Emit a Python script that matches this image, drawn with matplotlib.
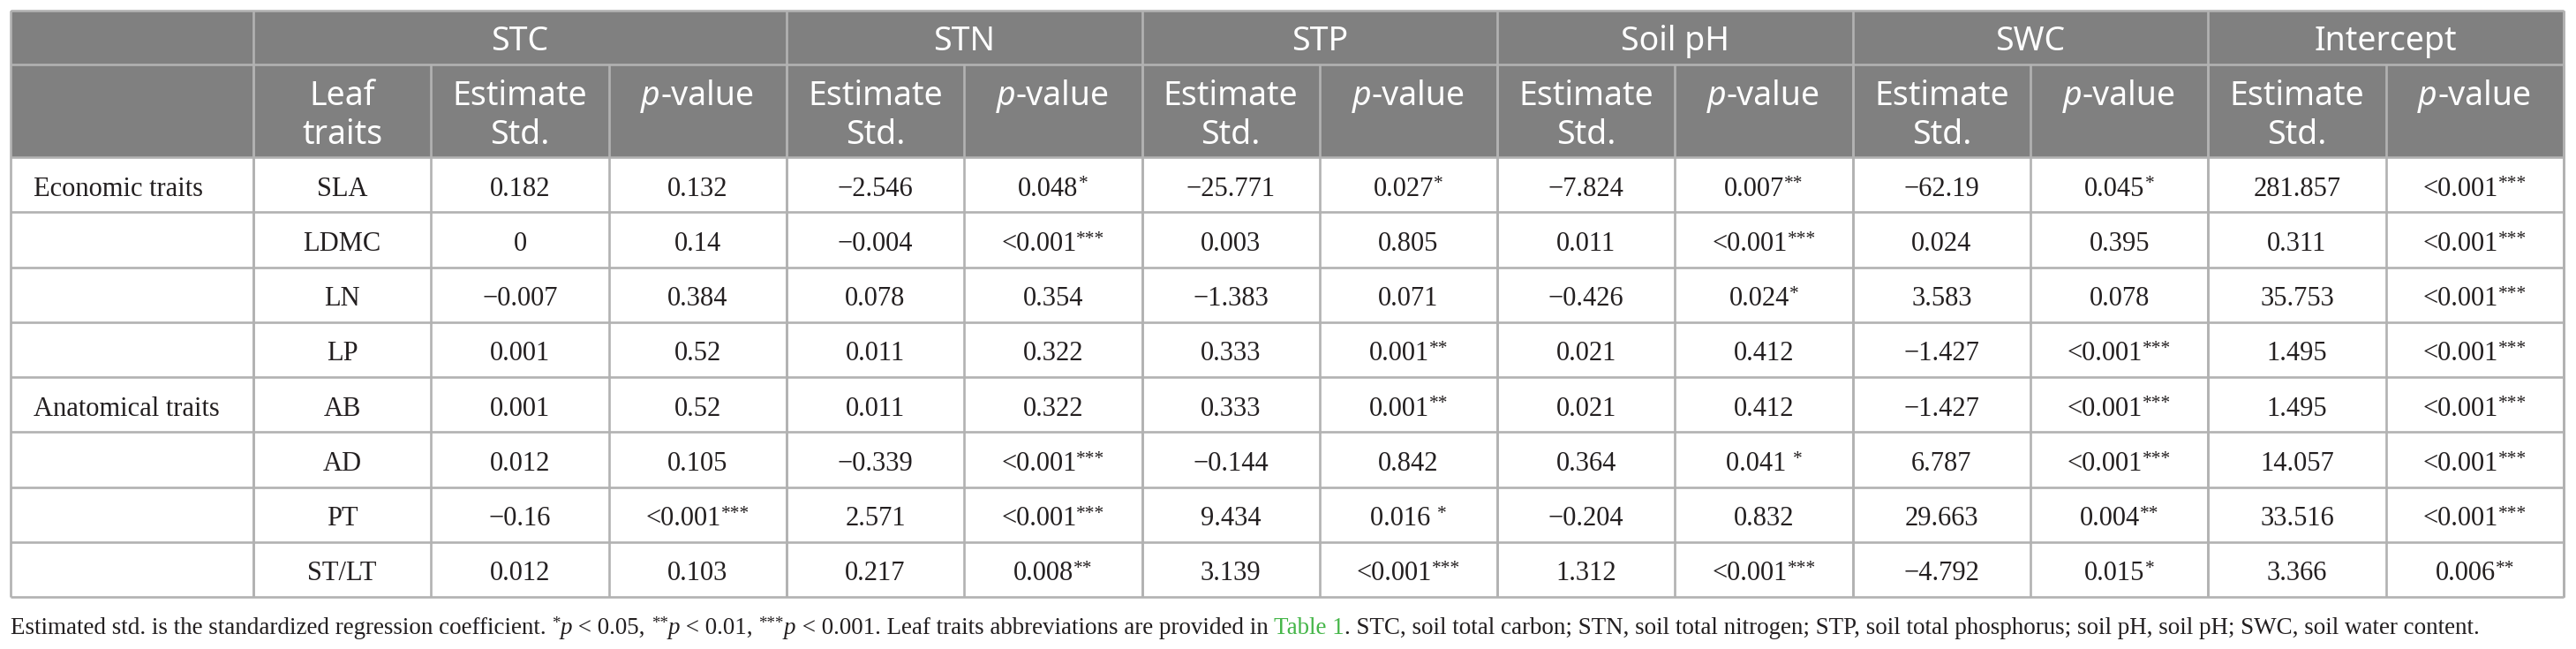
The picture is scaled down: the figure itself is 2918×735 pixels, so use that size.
import re
import matplotlib
matplotlib.use('Agg')
import matplotlib.pyplot as plt
from matplotlib.patches import Rectangle

# 표 데이터
groups = ['STC', 'STN', 'STP', 'Soil pH', 'SWC', 'Intercept']
categories = ['Economic traits', '', '', '', 'Anatomical traits', '', '', '']
traits = ['SLA', 'LDMC', 'LN', 'LP', 'AB', 'AD', 'PT', 'ST/LT']

stc_est = ['0.182', '0', '−0.007', '0.001', '0.001', '0.012', '−0.16', '0.012']
stc_p = ['0.132', '0.14', '0.384', '0.52', '0.52', '0.105', '<0.001***', '0.103']
stn_est = ['−2.546', '−0.004', '0.078', '0.011', '0.011', '−0.339', '2.571', '0.217']
stn_p = ['0.048*', '<0.001***', '0.354', '0.322', '0.322', '<0.001***', '<0.001***', '0.008**']
stp_est = ['−25.771', '0.003', '−1.383', '0.333', '0.333', '−0.144', '9.434', '3.139']
stp_p = ['0.027*', '0.805', '0.071', '0.001**', '0.001**', '0.842', '0.016 *', '<0.001***']
ph_est = ['−7.824', '0.011', '−0.426', '0.021', '0.021', '0.364', '−0.204', '1.312']
ph_p = ['0.007**', '<0.001***', '0.024*', '0.412', '0.412', '0.041 *', '0.832', '<0.001***']
swc_est = ['−62.19', '0.024', '3.583', '−1.427', '−1.427', '6.787', '29.663', '−4.792']
swc_p = ['0.045*', '0.395', '0.078', '<0.001***', '<0.001***', '<0.001***', '0.004**', '0.015*']
int_est = ['281.857', '0.311', '35.753', '1.495', '1.495', '14.057', '33.516', '3.366']
int_p = ['<0.001***', '<0.001***', '<0.001***', '<0.001***', '<0.001***', '<0.001***', '<0.001***', '0.006**']

estimates = [stc_est, stn_est, stp_est, ph_est, swc_est, int_est]
pvalues = [stc_p, stn_p, stp_p, ph_p, swc_p, int_p]

# 레이아웃 (픽셀)
W, H = 2918, 735
left, first_w, sub_w = 12, 275, 201.3
top, h1, h2, row_h = 12, 61, 105, 62.25
grid_c = '#b2b2b2'
head_bg = '#808080'

HEAD = dict(family='Noto Sans', size=27, color='white')
BODY = dict(family='Liberation Serif', size=22, color='#231f20')
NOTE = dict(family='Liberation Serif', size=19.45, color='#231f20')

fig = plt.figure(figsize=(W / 100, H / 100), dpi=100)
ax = fig.add_axes([0, 0, 1, 1])
ax.set_xlim(0, W)
ax.set_ylim(H, 0)
ax.axis('off')
renderer = fig.canvas.get_renderer()


def adv(s, style):
    t1 = ax.text(0, 0, 'X' + s + 'X', **style)
    t2 = ax.text(0, 0, 'XX', **style)
    w = t1.get_window_extent(renderer).width - t2.get_window_extent(renderer).width
    t1.remove()
    t2.remove()
    return w


def style_of(base, mode):
    st = dict(base)
    if 'i' in mode:
        st['style'] = 'italic'
    if 's' in mode:
        st['size'] = base['size'] * 0.7
    if 'g' in mode:
        st['color'] = '#45b649'
    return st


def draw_runs(x, cy, runs, base, ha='center'):
    px = base['size'] * 100 / 72
    baseline = cy + 0.34 * px
    items = []
    for txt, mode in runs:
        st = style_of(base, mode)
        items.append((txt, mode, st, adv(txt, st)))
    total = sum(i[3] for i in items)
    x0 = x - total / 2 if ha == 'center' else x
    for txt, mode, st, w in items:
        y = baseline - 0.27 * px if 's' in mode else baseline
        ax.text(x0, y, txt, ha='left', va='baseline', **st)
        x0 += w


def pval_runs(s):
    m = re.match(r'^(.*?)( ?)(\*+)?$', s)
    runs = [(m.group(1) + m.group(2), 'n')]
    if m.group(3):
        runs.append((m.group(3), 's'))
    return runs


n_rows = len(traits)
n_sub = 2 * len(groups) + 1
right = left + first_w + n_sub * sub_w
y_h1 = top + h1
y_h2 = y_h1 + h2
bottom = y_h2 + n_rows * row_h
xs = [left + first_w + k * sub_w for k in range(n_sub + 1)]

# 헤더 배경
ax.add_patch(Rectangle((left, top), right - left, y_h2 - top, facecolor=head_bg, edgecolor='none'))

# 격자선
lw = 1.9
ax.hlines([top, y_h1, y_h2] + [y_h2 + r * row_h for r in range(1, n_rows + 1)],
          left, right, color=grid_c, lw=lw)
ax.vlines([left, right], top, bottom, color=grid_c, lw=lw)
group_edges = [xs[0]] + [xs[1 + 2 * (g + 1)] for g in range(len(groups))]
ax.vlines(group_edges, top, bottom, color=grid_c, lw=lw)
ax.vlines(xs, y_h1, bottom, color=grid_c, lw=lw)

# 헤더 1행
for g, name in enumerate(groups):
    a = group_edges[g]
    b = group_edges[g + 1]
    draw_runs((a + b) / 2, top + h1 / 2 + 1.5, [(name, 'n')], HEAD)

# 헤더 2행
l1, l2 = y_h1 + 33, y_h1 + 77
cx = (xs[0] + xs[1]) / 2
draw_runs(cx, l1, [('Leaf', 'n')], HEAD)
draw_runs(cx, l2, [('traits', 'n')], HEAD)
for g in range(len(groups)):
    ce = (xs[1 + 2 * g] + xs[2 + 2 * g]) / 2
    cp = (xs[2 + 2 * g] + xs[3 + 2 * g]) / 2
    draw_runs(ce, l1, [('Estimate', 'n')], HEAD)
    draw_runs(ce, l2, [('Std.', 'n')], HEAD)
    draw_runs(cp, l1, [('p', 'i'), ('-value', 'n')], HEAD)

# 본문
for r in range(n_rows):
    cy = y_h2 + (r + 0.5) * row_h + 2
    if categories[r]:
        draw_runs(left + 26, cy, [(categories[r], 'n')], BODY, ha='left')
    draw_runs((xs[0] + xs[1]) / 2, cy, [(traits[r], 'n')], BODY)
    for g in range(len(groups)):
        ce = (xs[1 + 2 * g] + xs[2 + 2 * g]) / 2
        cp = (xs[2 + 2 * g] + xs[3 + 2 * g]) / 2
        draw_runs(ce, cy, [(estimates[g][r], 'n')], BODY)
        draw_runs(cp, cy, pval_runs(pvalues[g][r]), BODY)

# 각주
note = [('Estimated std. is the standardized regression coefficient. ', 'n'),
        ('*', 's'), ('p', 'i'), (' < 0.05, ', 'n'),
        ('**', 's'), ('p', 'i'), (' < 0.01, ', 'n'),
        ('***', 's'), ('p', 'i'),
        (' < 0.001. Leaf traits abbreviations are provided in ', 'n'),
        ('Table 1', 'g'),
        ('. STC, soil total carbon; STN, soil total nitrogen; STP, soil total phosphorus; '
         'soil pH, soil pH; SWC, soil water content.', 'n')]
draw_runs(left, bottom + 33, note, NOTE, ha='left')

fig.savefig('out.png', dpi=100, facecolor='white')
